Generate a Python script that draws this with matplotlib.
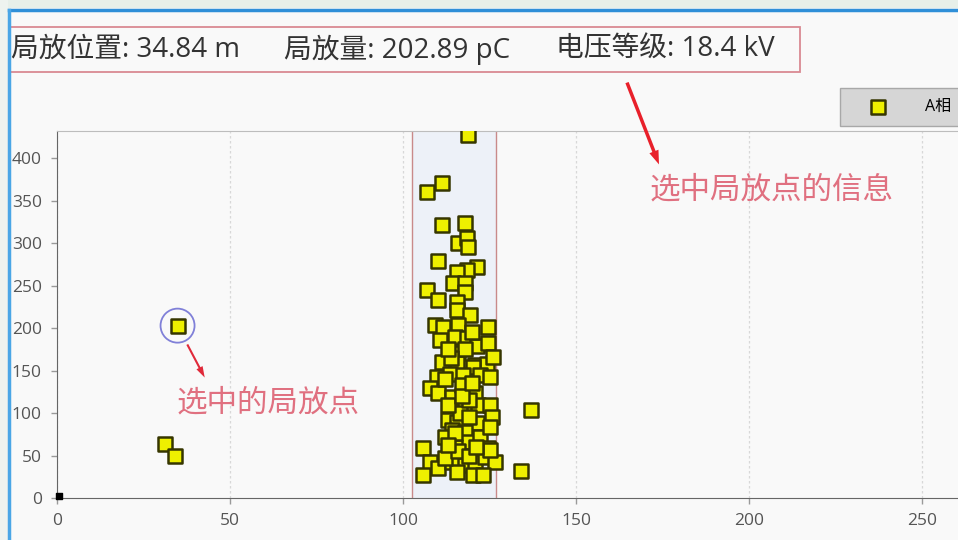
import matplotlib.pyplot as plt
from matplotlib.patches import Rectangle
from matplotlib.lines import Line2D

plt.rcParams['font.family'] = ['Open Sans', 'Noto Sans CJK SC', 'DejaVu Sans']

# 局放点: 位置 (m) / 放电量 (pC)
pd_x = [118.8, 111.3, 106.9, 111.3, 117.9, 115.9, 118.5, 118.8, 110.1, 121.4,
        118.5, 115.6, 114.5, 117.9, 117.9, 106.9, 110.1, 115.6, 115.6, 119.4,
        109.2, 111.6, 115.9, 124.6, 110.7, 115.0, 118.5, 121.4, 124.6, 111.3,
        115.9, 120.8, 124.3, 126.0, 115.6, 120.2, 109.8, 113.6, 117.3, 122.3,
        125.1, 107.8, 110.1, 114.2, 117.1, 120.8, 117.9, 121.7, 125.1, 113.0,
        115.6, 121.4, 125.7, 114.2, 117.9, 112.1, 118.8, 122.3, 125.1, 115.0,
        124.6, 105.8, 107.8, 110.1, 114.2, 117.9, 120.8, 123.7, 126.6, 105.8,
        120.2, 123.1, 115.6, 112.1, 125.1, 115.0, 116.5, 119.0, 113.0, 119.0,
        116.0, 119.0, 121.0, 113.0, 117.0, 120.0, 112.0, 118.0, 114.0, 120.0,
        113.0, 31.2, 34.1, 137.0, 134.1]
pd_y = [427, 371, 360, 321, 324, 300, 306, 295, 279, 272,
        268, 266, 253, 253, 242, 245, 233, 231, 221, 216,
        204, 201, 204, 201, 186, 189, 188, 179, 182, 160,
        171, 156, 158, 166, 159, 154, 142, 146, 145, 145,
        142, 129, 124, 119, 133, 124, 107, 109, 109, 92,
        89, 88, 95, 80, 78, 72, 66, 72, 84, 60,
        59, 59, 42, 35, 42, 39, 42, 48, 42, 27,
        27, 27, 31, 47, 56, 76, 100, 115, 110, 95,
        55, 50, 60, 62, 120, 135, 140, 175, 165, 195,
        175, 63.5, 49.4, 103.5, 31.8]

# 选中的局放点
sel_pos = 34.84
sel_q = 202.89
sel_kv = 18.4

# 选中区间
band_lo, band_hi = 102.6, 126.9

origin_x = [0.6]
origin_y = [2]

W, H = 958, 540
fig = plt.figure(figsize=(W / 100, H / 100), dpi=100, facecolor='#f9f9f9')


def fx(px):
    return px / W


def fy(py):
    return 1 - py / H


# window frame
fig.patches.append(Rectangle((0, fy(8)), 1, 1 - fy(8), transform=fig.transFigure,
                             facecolor='#e7efe9', edgecolor='none', zorder=0))
fig.patches.append(Rectangle((0, 0), fx(8), 1, transform=fig.transFigure,
                             facecolor='#eef3ef', edgecolor='none', zorder=0))
fig.add_artist(Line2D([fx(9), 1], [fy(10), fy(10)], transform=fig.transFigure,
                      color='#2f8fd8', lw=2.5))
fig.add_artist(Line2D([fx(9), fx(9)], [0, fy(10)], transform=fig.transFigure,
                      color='#4aa6e6', lw=2.5))

ax = fig.add_axes([fx(57), fy(498), 1 - fx(57), fy(131) - fy(498)])
ax.set_facecolor('#f9f9f9')
ax.set_xlim(0, 260.4)
ax.set_ylim(0, 432)

ax.axvspan(band_lo, band_hi, facecolor='#edf1f8', edgecolor='none', zorder=1)
ax.axvline(band_lo, color='#c98a8a', lw=1, zorder=1.5)
ax.axvline(band_hi, color='#c98a8a', lw=1, zorder=1.5)

sc = ax.scatter(pd_x, pd_y, marker='s', s=100, facecolor='#eef000',
                edgecolor='#363600', linewidth=1.8, zorder=3)
ax.scatter([sel_pos], [sel_q], marker='s', s=100, facecolor='#eef000',
           edgecolor='#363600', linewidth=1.8, zorder=3)
ax.scatter([sel_pos], [sel_q], marker='o', s=600, facecolor='none',
           edgecolor='#8080d8', linewidth=1.3, zorder=4)
ax.scatter(origin_x, origin_y, marker='s', s=18, color='black', zorder=4,
           clip_on=False)

ax.set_xticks([0, 50, 100, 150, 200, 250])
ax.set_yticks([0, 50, 100, 150, 200, 250, 300, 350, 400])
ax.tick_params(labelsize=12.5, colors='#9a9a9a', labelcolor='#555555',
               length=4, width=1)
ax.tick_params(axis='y', pad=7)
ax.tick_params(axis='x', pad=7)
ax.grid(axis='x', color='#d8d8d8', linestyle=(0, (2, 2)), lw=0.9)
ax.set_axisbelow(True)
for s in ['left', 'bottom']:
    ax.spines[s].set_color('#666666')
ax.spines['top'].set_color('#bdbdbd')
ax.spines['right'].set_visible(False)

# info box
fig.patches.append(Rectangle((fx(10), fy(72)), fx(800) - fx(10), fy(27) - fy(72),
                             transform=fig.transFigure, facecolor='none',
                             edgecolor='#d98a92', lw=1.3))
info = ['局放位置: %.2f m' % sel_pos, '局放量: %.2f pC' % sel_q,
        '电压等级: %.1f kV' % sel_kv]
for px, t in zip([11, 284, 556], info):
    fig.text(fx(px), fy(50), t, fontsize=20, color='#333333', va='center')

# legend
leg = ax.legend([sc], ['A相'], loc='upper left', bbox_to_anchor=(fx(840), fy(88)),
                bbox_transform=fig.transFigure, frameon=True, fancybox=False,
                facecolor='#d6d6d6', edgecolor='#a8a8a8', framealpha=1,
                fontsize=11.5, handletextpad=1.2, borderpad=0.7, handlelength=3.4,
                borderaxespad=0)
leg.get_frame().set_linewidth(1)

# annotations
fig.text(fx(650), fy(190), '选中局放点的信息', fontsize=22, color='#e07080',
         va='center')
fig.text(fx(177), fy(403), '选中的局放点', fontsize=22, color='#e07080',
         va='center')
ax.annotate('', xy=(660, H - 167), xytext=(626, H - 80), xycoords='figure pixels',
            textcoords='figure pixels',
            arrowprops=dict(arrowstyle='simple,head_width=0.7,head_length=1.0,tail_width=0.25',
                            color='#e8202a', lw=0))
ax.annotate('', xy=(206, H - 380), xytext=(186, H - 342), xycoords='figure pixels',
            textcoords='figure pixels',
            arrowprops=dict(arrowstyle='simple,head_width=0.5,head_length=0.8,tail_width=0.15',
                            color='#e02a3a', lw=0))

fig.savefig('out.png', dpi=100, facecolor=fig.get_facecolor())
